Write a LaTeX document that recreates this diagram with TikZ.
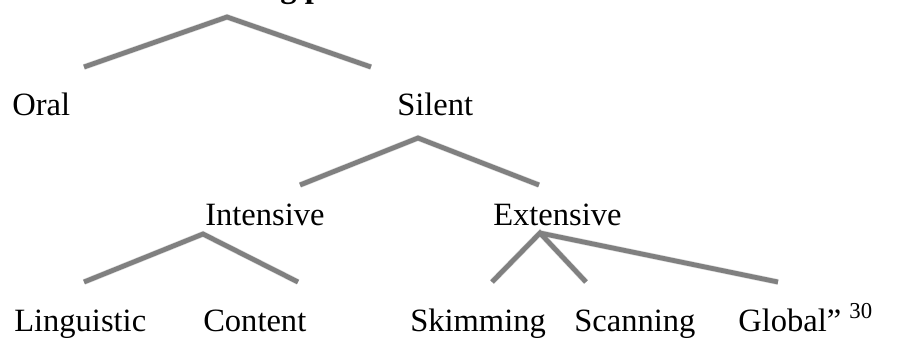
\documentclass[tikz,border=0pt]{standalone}
\usepackage{fontspec}
\setmainfont{Liberation Serif}
\begin{document}
\begin{tikzpicture}[x=0.75pt,y=-0.75pt,
  lbl/.style={anchor=base west,inner sep=0pt,font=\fontsize{24.4}{29}\selectfont},
  branch/.style={draw=black!50,line width=3.6pt,line join=miter},
  shade/.style={draw=black!12,line width=4.5pt}]
\useasboundingbox (0,0) rectangle (909,340);
\begin{scope}
\clip (0,0) rectangle (909,340);
\node[lbl,font=\fontsize{24.4}{29}\selectfont\bfseries] (head) at (253,-3) {ing p};
\end{scope}
% text nodes
\node[lbl] (oral) at (12,115) {Oral};
\node[lbl] (silent) at (397,115) {Silent};
\node[lbl] (intensive) at (205,225) {Intensive};
\node[lbl] (extensive) at (493,225) {Extensive};
\node[lbl] (ling) at (14,331) {Linguistic};
\node[lbl] (content) at (203,331) {Content};
\node[lbl] (skim) at (410,331) {Skimming};
\node[lbl] (scan) at (574,331) {Scanning};
\node[lbl] (global) at (738,331) {Global”~\textsuperscript{30}};
% branch points
\coordinate (p0) at (227,17);
\coordinate (p0l) at (84,67);
\coordinate (p0r) at (371,67);
\coordinate (p1) at (418,138);
\coordinate (p1l) at (300,185);
\coordinate (p1r) at (539,185);
\coordinate (p2) at (203,234);
\coordinate (p2l) at (84,282);
\coordinate (p2r) at (298,282);
\coordinate (p3) at (540,233);
\coordinate (p3a) at (492,282);
\coordinate (p3b) at (586,282);
\coordinate (p3c) at (778,282);
% shadows
\begin{scope}[shift={(1.5,3)}]
\draw[shade] (p0l) -- (p0) -- (p0r);
\draw[shade] (p1l) -- (p1) -- (p1r);
\draw[shade] (p2l) -- (p2) -- (p2r);
\draw[shade] (p3a) -- (p3) -- (p3b);
\draw[shade] (p3) -- (p3c);
\end{scope}
% branches
\draw[branch] (p0l) -- (p0) -- (p0r);
\draw[branch] (p1l) -- (p1) -- (p1r);
\draw[branch] (p2l) -- (p2) -- (p2r);
\draw[branch] (p3a) -- (p3) -- (p3b);
\draw[branch] (p3) -- (p3c);
\end{tikzpicture}
\end{document}
